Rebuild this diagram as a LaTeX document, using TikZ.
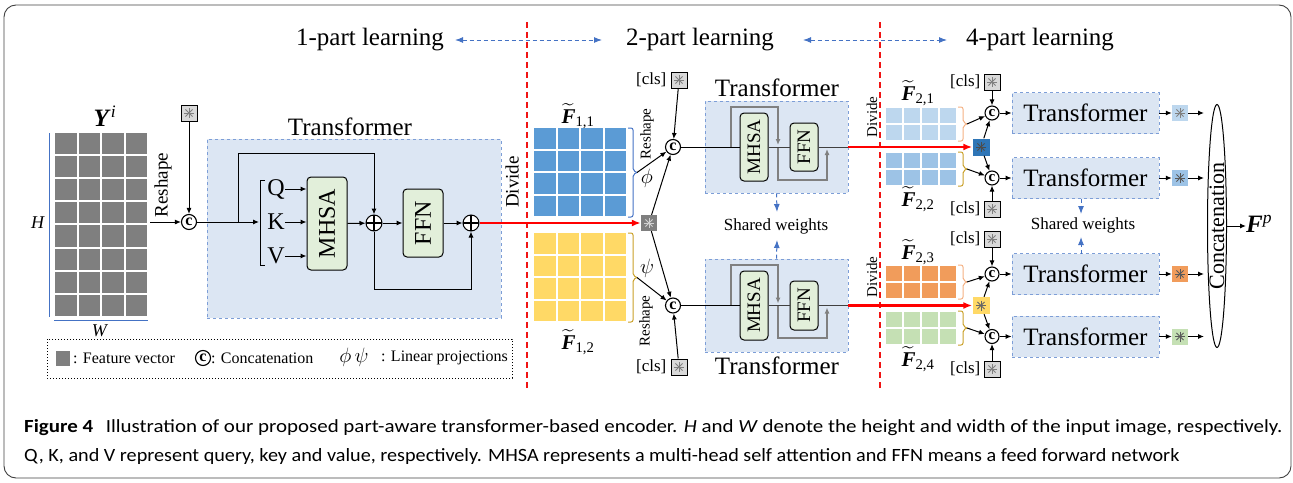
\documentclass[tikz,border=0pt]{standalone}
\usepackage{fontspec}
\usepackage{amsmath}
\usepackage{graphicx}
\setmainfont{Liberation Serif}
\newfontfamily\capfont{Carlito}
\usetikzlibrary{arrows.meta,shapes.geometric}
\definecolor{tfill}{RGB}{220,230,243}
\definecolor{tline}{RGB}{125,158,215}
\definecolor{gfill}{RGB}{226,239,218}
\definecolor{bl}{RGB}{68,114,196}
\definecolor{cellgray}{RGB}{127,127,127}
\definecolor{cA}{RGB}{91,155,213}
\definecolor{cB}{RGB}{255,217,102}
\definecolor{cC}{RGB}{189,215,238}
\definecolor{cD}{RGB}{157,195,230}
\definecolor{cE}{RGB}{241,156,91}
\definecolor{cF}{RGB}{197,224,180}
\definecolor{dblue}{RGB}{46,117,182}
\definecolor{orbr}{RGB}{244,177,131}
\definecolor{gdbr}{RGB}{201,160,40}
\definecolor{redd}{RGB}{240,20,20}
\newcommand{\fsz}[1]{\fontsize{#1}{#1}\selectfont}
\newcommand{\tildeF}[1]{$\widetilde{\textbf{\textit{F}}}_{\text{#1}}$}
\newcommand{\cellgrid}[7]{%
  \foreach \i in {0,...,#5}{\foreach \j in {0,...,#6}{%
    \fill[#7] ({#1+\i*#3+1},{#2+\j*#4+1}) rectangle ({#1+(\i+1)*#3-1},{#2+(\j+1)*#4-1});}}}
\newcommand{\brc}[5]{%
  \draw[#4, line width=1pt, rounded corners=2pt] (#1,#2) -- ({#1+5},#2) -- ({#1+5},{(#2+#3)/2-2}) -- ({#1+9},{(#2+#3)/2});
  \draw[#4, line width=1pt, rounded corners=2pt] ({#1+9},{(#2+#3)/2}) -- ({#1+5},{(#2+#3)/2+2}) -- ({#1+5},#3) -- (#1,#3);
  \coordinate (#5) at ({#1+9},{(#2+#3)/2});}
\begin{document}
\begin{tikzpicture}[x=1pt,y=-1pt,
  arr/.style={-{Latex[length=6pt,width=5pt]}, line width=1pt},
  garr/.style={-{Latex[length=6pt,width=5pt]}, line width=1.2pt, gray},
  redarr/.style={-{Latex[length=9pt,width=7pt]}, line width=2.6pt, red},
  bdarr/.style={bl, line width=1pt, dash pattern=on 4pt off 3pt, {Latex[length=8pt,width=6pt]}-{Latex[length=8pt,width=6pt]}},
  sdarr/.style={bl, line width=1pt, dash pattern=on 4pt off 3pt, -{Latex[length=8pt,width=6pt]}},
  rdash/.style={draw=redd, line width=1.4pt, dash pattern=on 6pt off 4pt},
  tbox/.style={draw=tline, dashed, fill=tfill, line width=0.8pt},
  gbox/.style={draw=black, fill=gfill, rounded corners=4pt, line width=1pt, inner sep=0pt},
  catc/.style={circle, draw, fill=white, line width=1.1pt, minimum size=15pt, inner sep=0pt, font=\fsz{16}\bfseries},
  plusc/.style={circle, draw, fill=white, line width=1pt, minimum size=16pt, inner sep=0pt,
    path picture={\draw[line width=1.3pt] (path picture bounding box.north) -- (path picture bounding box.south) (path picture bounding box.west) -- (path picture bounding box.east);}},
  astr/.style={path picture={\foreach \a in {0,45,90,135}{\draw[#1, line width=0.9pt, shift={(path picture bounding box.center)}] (\a:5pt) -- ({\a+180}:5pt);}}},
  sbox/.style={rectangle, minimum size=16pt, inner sep=0pt},
  clsbox/.style={sbox, draw=black, line width=1pt, fill=gray!30, astr=gray},
  lbl/.style={inner sep=0pt}]
\useasboundingbox (0,0) rectangle (1293,482);
\draw[rounded corners=12pt, line width=0.9pt, black!75] (4,5) rectangle (1291,478);

% ---------- header ----------
\node[lbl, font=\fsz{25}] (h1) at (370,40) {1-part learning};
\node[lbl, font=\fsz{25}] (h2) at (700,40) {2-part learning};
\node[lbl, font=\fsz{25}] (h3) at (1040,40) {4-part learning};
\coordinate (a1l) at (455,40); \coordinate (a1r) at (602,40);
\coordinate (a2l) at (803,40); \coordinate (a2r) at (947,40);
\draw[bdarr] (a1l) -- (a1r);
\draw[bdarr] (a2l) -- (a2r);
\coordinate (rv1t) at (527,22); \coordinate (rv1b) at (527,388);
\coordinate (rv2t) at (880,22); \coordinate (rv2b) at (880,388);
\draw[rdash] (rv1t) -- (rv1b);
\draw[rdash] (rv2t) -- (rv2b);

% ---------- 1-part ----------
\node[lbl, font=\fsz{25}] (Y) at (105,116) {\textbf{\textit{Y}}$^{\textit{i}}$};
\cellgrid{54}{132}{23.5}{23.1}{3}{7}{cellgray}
\coordinate (hl1) at (49.5,133); \coordinate (hl2) at (49.5,317);
\draw[bl, line width=1pt] (hl1) -- (hl2);
\coordinate (wl1) at (54,320); \coordinate (wl2) at (148,320);
\draw[bl, line width=1pt] (wl1) -- (wl2);
\node[lbl, font=\fsz{18}] (H) at (38,223) {\textit{H}};
\node[lbl, font=\fsz{18}] (W) at (100,331) {\textit{W}};
\node[lbl, font=\fsz{19}] (rs0) at (163,185) {\rotatebox{90}{Reshape}};
\node[catc] (c0) at (189,222) {c};
\node[clsbox] (s0) at (189,113) {};
\coordinate (gout) at (150,222);
\draw[arr] (gout) -- (c0);
\draw[arr] (s0) -- (c0);

\node[tbox, minimum width=294pt, minimum height=179pt] (T0) at (354,228.5) {};
\node[lbl, font=\fsz{25}] (T0l) at (350,127) {Transformer};
\coordinate (brk) at (259,222);
\draw[arr] (c0) -- (brk);
\draw[line width=1pt] (265,180) -- (260,180) -- (260,265) -- (265,265);
\node[lbl, font=\fsz{24}] (Q) at (276,189) {Q};
\node[lbl, font=\fsz{24}] (K) at (276,222) {K};
\node[lbl, font=\fsz{24}] (V) at (276,256) {V};
\node[gbox, minimum width=40pt, minimum height=93pt, font=\fsz{24}] (m0) at (327,223.5) {\rotatebox{90}{MHSA}};
\draw[arr] (Q.east) -- (Q.east -| m0.west);
\draw[arr] (K.east) -- (K.east -| m0.west);
\draw[arr] (V.east) -- (V.east -| m0.west);
\node[plusc] (p1) at (374,223) {};
\node[gbox, minimum width=40pt, minimum height=68pt, font=\fsz{24}] (f0) at (423,223) {\rotatebox{90}{FFN}};
\node[plusc] (p2) at (471,223) {};
\draw[arr] (m0.east) -- (p1);
\draw[arr] (p1) -- (f0);
\draw[arr] (f0) -- (p2);
\coordinate (br0) at (238,222);
\coordinate (top0) at (374,153);
\draw[arr] (br0) -- (br0 |- top0) -- (top0) -- (p1.north);
\coordinate (bot0) at (374,289);
\draw[arr] (p1.south) -- (bot0) -- (bot0 -| p2) -- (p2.south);
\node[lbl, font=\fsz{19}] (dv0) at (512,182) {\rotatebox{90}{Divide}};

% legend
\draw[dotted, line width=1pt] (47,339) rectangle (512,378);
\fill[cellgray] (56,351) rectangle (70,366);
\node[lbl, anchor=west, font=\fsz{16}] (lg1) at (73,358) {: Feature vector};
\node[catc] (lgc) at (203,358) {c};
\node[lbl, anchor=west, font=\fsz{16}] (lg2) at (211,358) {: Concatenation};
\node[lbl, font=\fsz{20}] (lg3) at (354,357) {$\phi\,\psi$};
\node[lbl, anchor=west, font=\fsz{16}] (lg4) at (381,358) {: Linear projections};

% ---------- 2-part ----------
\node[sbox, fill=cellgray, astr=gray!35] (d0) at (649,223) {};
\draw[redarr] (p2) -- (d0);
\node[lbl, font=\fsz{21}] (F11) at (578,116) {\tildeF{1,1}};
\cellgrid{533}{127}{23.5}{22.5}{3}{3}{cA}
\brc{628}{128}{217}{bl}{t11}
\node[lbl, font=\fsz{21}] (F12) at (578,342) {\tildeF{1,2}};
\cellgrid{533}{232}{23.5}{22.5}{3}{3}{cB}
\brc{628}{233}{322}{gdbr}{t12}
\node[lbl, font=\fsz{15}] (rs1) at (647,134) {\rotatebox{90}{Reshape}};
\node[lbl, font=\fsz{15}] (rs2) at (646,321) {\rotatebox{90}{Reshape}};
\node[lbl, font=\fsz{21}] (phi) at (647,178) {$\phi$};
\node[lbl, font=\fsz{21}] (psi) at (647,268) {$\psi$};
\node[catc] (c1) at (673,147) {c};
\node[catc] (c2) at (673,305.5) {c};
\node[clsbox] (b1) at (679,80) {};
\node[lbl, anchor=east, font=\fsz{17}] (b1l) at ([xshift=-4pt]b1.west) {[cls]};
\node[clsbox] (b2) at (679,367) {};
\node[lbl, anchor=east, font=\fsz{17}] (b2l) at ([xshift=-4pt]b2.west) {[cls]};
\draw[arr] (t11) -- (c1);
\draw[arr] (t12) -- (c2);
\draw[arr] (b1) -- (c1);
\draw[arr] (b2) -- (c2);
\draw[arr] (d0) -- (c1);
\draw[arr] (d0) -- (c2);

% small transformer 1
\node[tbox, minimum width=143pt, minimum height=92pt] (T1) at (776.5,147) {};
\node[lbl, font=\fsz{25}] (T1l) at (777,88) {Transformer};
\node[gbox, minimum width=28pt, minimum height=68pt, font=\fsz{19}] (m1) at (754,147) {\rotatebox{90}{MHSA}};
\node[gbox, minimum width=28pt, minimum height=48pt, font=\fsz{19}] (f1) at (804,147) {\rotatebox{90}{FFN}};
\coordinate (r1a) at (731,147); \coordinate (r1b) at (731,107); \coordinate (r1c) at (778,107); \coordinate (r1d) at (778,145);
\draw[garr] (r1a) -- (r1b) -- (r1c) -- (r1d);
\coordinate (r1e) at (778,147); \coordinate (r1f) at (778,180); \coordinate (r1g) at (827,180); \coordinate (r1h) at (827,149);
\draw[garr] (r1e) -- (r1f) -- (r1g) -- (r1h);
\draw[line width=1pt] (c1) -- (m1.west);
\draw[line width=1pt, black!75] (m1.east) -- (f1.west);
\draw[line width=1pt, black!75] (f1.east) -- (T1.east);
% small transformer 2
\node[tbox, minimum width=143pt, minimum height=93pt] (T2) at (776.5,305.5) {};
\node[lbl, font=\fsz{25}] (T2l) at (777,366) {Transformer};
\node[gbox, minimum width=28pt, minimum height=69pt, font=\fsz{19}] (m2) at (754,305.5) {\rotatebox{90}{MHSA}};
\node[gbox, minimum width=28pt, minimum height=49pt, font=\fsz{19}] (f2) at (804,305.5) {\rotatebox{90}{FFN}};
\coordinate (r2a) at (731,305.5); \coordinate (r2b) at (731,265); \coordinate (r2c) at (778,265); \coordinate (r2d) at (778,303.5);
\draw[garr] (r2a) -- (r2b) -- (r2c) -- (r2d);
\coordinate (r2e) at (778,305.5); \coordinate (r2f) at (778,338); \coordinate (r2g) at (827,338); \coordinate (r2h) at (827,307.5);
\draw[garr] (r2e) -- (r2f) -- (r2g) -- (r2h);
\draw[line width=1pt] (c2) -- (m2.west);
\draw[line width=1pt, black!75] (m2.east) -- (f2.west);
\draw[line width=1pt, black!75] (f2.east) -- (T2.east);
% shared weights
\node[lbl, font=\fsz{17}] (sw1) at (776,226) {Shared weights};
\coordinate (sw1a) at (777,212); \coordinate (sw1b) at (777,240);
\draw[sdarr] (T1.south) -- (sw1a);
\draw[sdarr] (T2.north) -- (sw1b);
\node[lbl, font=\fsz{15}] (dv1) at (872,117) {\rotatebox{90}{Divide}};
\node[lbl, font=\fsz{15}] (dv2) at (872,277) {\rotatebox{90}{Divide}};

% ---------- 4-part ----------
\node[sbox, minimum size=17pt, fill=dblue, astr=black!70] (ds1) at (981,147) {};
\node[sbox, minimum size=17pt, fill=cB, astr=gray!80!black] (ds2) at (981,305.5) {};
\draw[redarr] (T1.east) -- (ds1);
\draw[redarr] (T2.east) -- (ds2);

\node[lbl, font=\fsz{21}] (F21) at (918,93) {\tildeF{2,1}};
\cellgrid{885}{107}{18}{17}{3}{1}{cC}
\brc{958}{107}{141}{orbr}{t21}
\node[lbl, font=\fsz{21}] (F22) at (918,199) {\tildeF{2,2}};
\cellgrid{885}{152}{18}{17}{3}{1}{cD}
\brc{958}{152}{186}{gdbr}{t22}
\node[lbl, font=\fsz{21}] (F23) at (918,252) {\tildeF{2,3}};
\cellgrid{885}{265}{18}{17}{3}{1}{cE}
\brc{958}{265}{299}{orbr}{t23}
\node[lbl, font=\fsz{21}] (F24) at (918,359) {\tildeF{2,4}};
\cellgrid{885}{311}{18}{17}{3}{1}{cF}
\brc{958}{311}{345}{gdbr}{t24}

\node[catc, minimum size=14pt, font=\fsz{15}\bfseries] (c21) at (992,113) {c};
\node[catc, minimum size=14pt, font=\fsz{15}\bfseries] (c22) at (992,178) {c};
\node[catc, minimum size=14pt, font=\fsz{15}\bfseries] (c23) at (992,274) {c};
\node[catc, minimum size=14pt, font=\fsz{15}\bfseries] (c24) at (992,336.5) {c};
\node[clsbox] (b21) at (992,82) {};
\node[clsbox] (b22) at (992,209) {};
\node[clsbox] (b23) at (992,239) {};
\node[clsbox] (b24) at (992,369) {};
\node[lbl, anchor=east, font=\fsz{17}] (b21l) at ([xshift=-3pt]b21.west) {[cls]};
\node[lbl, anchor=east, font=\fsz{17}] (b22l) at ([xshift=-3pt]b22.west) {[cls]};
\node[lbl, anchor=east, font=\fsz{17}] (b23l) at ([xshift=-3pt]b23.west) {[cls]};
\node[lbl, anchor=east, font=\fsz{17}] (b24l) at ([xshift=-3pt]b24.west) {[cls]};
\draw[arr] (b21) -- (c21);
\draw[arr] (b22) -- (c22);
\draw[arr] (b23) -- (c23);
\draw[arr] (b24) -- (c24);
\draw[arr] (t21) -- (c21);
\draw[arr] (t22) -- (c22);
\draw[arr] (t23) -- (c23);
\draw[arr] (t24) -- (c24);
\draw[arr] (ds1) -- (c21);
\draw[arr] (ds1) -- (c22);
\draw[arr] (ds2) -- (c23);
\draw[arr] (ds2) -- (c24);

\node[tbox, minimum width=147pt, minimum height=41pt, font=\fsz{25}] (R1) at (1085.5,113) {Transformer};
\node[tbox, minimum width=147pt, minimum height=41pt, font=\fsz{25}] (R2) at (1085.5,178) {Transformer};
\node[tbox, minimum width=147pt, minimum height=41pt, font=\fsz{25}] (R3) at (1085.5,274) {Transformer};
\node[tbox, minimum width=147pt, minimum height=41pt, font=\fsz{25}] (R4) at (1085.5,336.5) {Transformer};
\draw[arr] (c21) -- (R1);
\draw[arr] (c22) -- (R2);
\draw[arr] (c23) -- (R3);
\draw[arr] (c24) -- (R4);
\node[sbox, fill=cC, astr=gray] (o1) at (1180,113) {};
\node[sbox, fill=cD, astr=gray!70!black] (o2) at (1180,178) {};
\node[sbox, fill=cE, astr=gray!70!black] (o3) at (1180,274) {};
\node[sbox, fill=cF, astr=gray!70!black] (o4) at (1180,336.5) {};
\draw[arr] (R1) -- (o1);
\draw[arr] (R2) -- (o2);
\draw[arr] (R3) -- (o3);
\draw[arr] (R4) -- (o4);
\coordinate (e1) at (1204,113); \coordinate (e2) at (1204,178);
\coordinate (e3) at (1204,274); \coordinate (e4) at (1204,336.5);
\draw[arr] (o1) -- (e1);
\draw[arr] (o2) -- (e2);
\draw[arr] (o3) -- (e3);
\draw[arr] (o4) -- (e4);
\node[lbl, font=\fsz{17}] (sw2) at (1083,225) {Shared weights};
\coordinate (sw2a) at (1081,198.5); \coordinate (sw2b) at (1081,214);
\coordinate (sw2c) at (1081,253.5); \coordinate (sw2d) at (1081,237);
\draw[sdarr] (sw2a) -- (sw2b);
\draw[sdarr] (sw2c) -- (sw2d);

\node[ellipse, draw, line width=1pt, minimum width=19pt, minimum height=243pt, inner sep=0pt] (E) at (1217,226) {};
\node[lbl, font=\fsz{22}] (El) at (E.center) {\rotatebox{90}{Concatenation}};
\node[lbl, anchor=west, font=\fsz{25}] (Fp) at (1246,224) {\textbf{\textit{F}}$^{\textit{p}}$};
\draw[arr] (E.east) -- (Fp.west |- E.east);

% ---------- caption ----------
\node[lbl, anchor=base west] (cap1) at (24,432) {\resizebox{1258pt}{13pt}{\capfont\textbf{Figure 4}\hspace{0.6em}Illustration of our proposed part-aware transformer-based encoder. \textit{H} and \textit{W} denote the height and width of the input image, respectively.}};
\node[lbl, anchor=base west] (cap2) at (24,461) {\resizebox{1155pt}{13pt}{\capfont Q, K, and V represent query, key and value, respectively. MHSA represents a multi-head self attention and FFN means a feed forward network}};
\end{tikzpicture}
\end{document}
